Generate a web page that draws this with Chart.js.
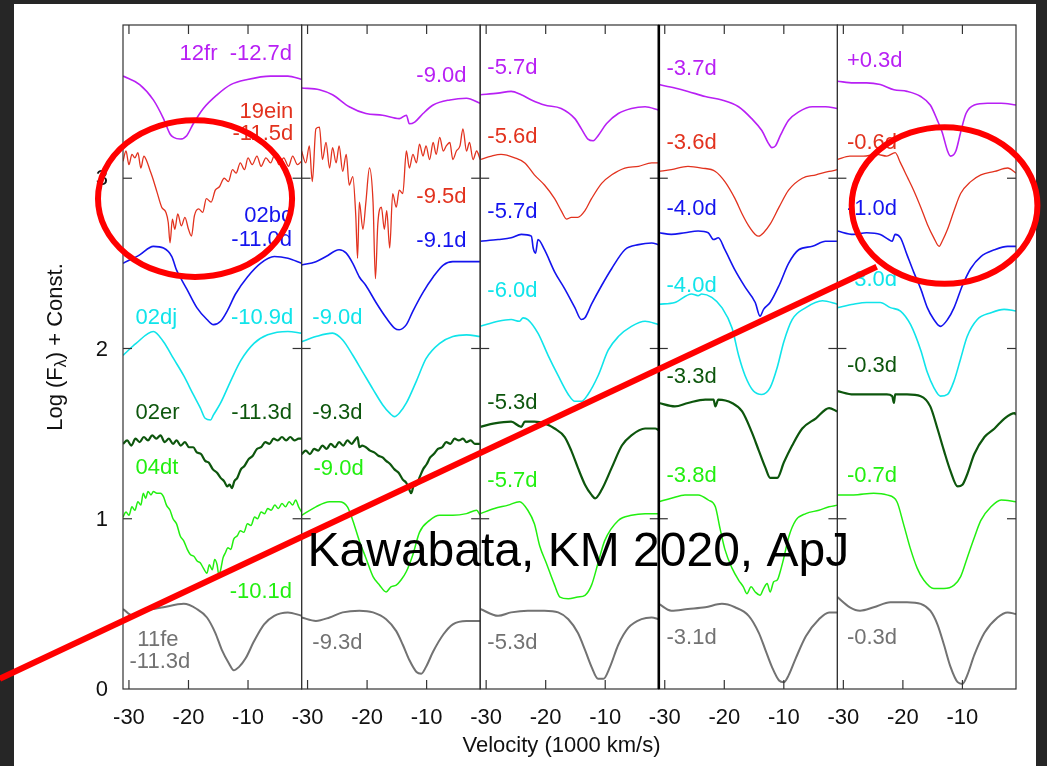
<!DOCTYPE html>
<html>
<head>
<meta charset="utf-8">
<title>Spectra - Kawabata, KM 2020</title>
<script src="https://cdn.jsdelivr.net/npm/chart.js@4.4.1/dist/chart.umd.min.js"></script>
<style>
  html, body { margin: 0; padding: 0; background: #262626; overflow: hidden; }
  canvas { display: block; }
</style>
</head>
<body>
<canvas id="spectraChart" width="1047" height="766"></canvas>
<script>
// spectra.js - five panels of velocity spectra, one line per SN per panel

const SN_NAMES = ['12fr', '19ein', '02bc', '02dj', '02er', '04dt', '11fe'];
const SN_COLORS = ['#b820f4', '#e2321e', '#1414ee', '#10e4ea', '#0d560d', '#22ef10', '#727272'];
const SN_WIDTHS = [1.6, 1.3, 1.6, 1.6, 2.2, 1.5, 2.0];

const X_TICKS = [-30, -20, -10];
const Y_TICKS = [0, 1, 2, 3];

// ---- panel 1 ----
const p1_12fr = [[-31.0,3.60],[-28.2,3.55],[-25.9,3.46],[-24.2,3.35],[-23.1,3.26],[-22.5,3.24],[-21.4,3.23],[-20.3,3.25],[-19.2,3.32],[-17.5,3.41],[-15.2,3.49],[-12.9,3.55],[-10.1,3.58],[-6.2,3.60],[-3.3,3.60],[-1.0,3.58]];
const p1_19ein = [[-31.0,3.10],[-30.5,3.16],[-30.0,3.08],[-29.5,3.14],[-29.0,3.12],[-28.5,3.15],[-28.0,3.06],[-27.5,3.13],[-27.0,3.10],[-26.5,3.05],[-26.0,3.00],[-25.3,2.92],[-24.5,2.83],[-23.8,2.80],[-23.4,2.74],[-23.1,2.62],[-22.7,2.76],[-22.3,2.70],[-21.8,2.79],[-21.2,2.72],[-20.6,2.77],[-20.0,2.70],[-19.5,2.66],[-19.0,2.78],[-18.3,2.82],[-17.6,2.80],[-17.0,2.88],[-16.2,2.86],[-15.5,2.93],[-14.8,2.95],[-14.0,3.00],[-13.3,2.98],[-12.6,3.05],[-12.0,3.03],[-11.3,3.09],[-10.6,3.05],[-10.0,3.12],[-9.3,3.08],[-8.5,3.13],[-7.8,3.07],[-7.0,3.12],[-6.2,3.09],[-5.5,3.14],[-4.8,3.08],[-4.0,3.12],[-3.2,3.07],[-2.5,3.13],[-1.7,3.08],[-1.0,3.10]];
const p1_02bc = [[-31.0,2.50],[-28.2,2.55],[-25.9,2.60],[-24.2,2.59],[-22.8,2.54],[-22.0,2.46],[-21.1,2.40],[-20.3,2.35],[-18.6,2.24],[-16.9,2.17],[-15.8,2.14],[-14.6,2.16],[-13.5,2.22],[-12.1,2.32],[-10.1,2.42],[-7.9,2.50],[-5.6,2.54],[-3.3,2.53],[-1.0,2.50]];
const p1_02dj = [[-31.0,1.96],[-28.8,2.03],[-25.9,2.10],[-24.2,2.04],[-22.5,1.94],[-20.8,1.84],[-19.2,1.73],[-18.0,1.65],[-17.2,1.59],[-16.3,1.58],[-15.8,1.61],[-14.6,1.68],[-12.9,1.81],[-11.2,1.93],[-9.0,2.03],[-6.7,2.08],[-3.3,2.10],[-1.0,2.09]];
const p1_02er = [[-31.0,1.44],[-30.3,1.46],[-29.6,1.43],[-28.9,1.47],[-28.2,1.45],[-27.5,1.48],[-26.8,1.46],[-26.1,1.49],[-25.4,1.47],[-24.7,1.49],[-24.0,1.45],[-23.3,1.47],[-22.6,1.44],[-22.0,1.46],[-21.3,1.43],[-20.6,1.45],[-19.9,1.42],[-19.2,1.42],[-18.6,1.39],[-17.9,1.38],[-17.2,1.34],[-16.6,1.33],[-15.9,1.29],[-15.2,1.27],[-14.6,1.24],[-14.0,1.22],[-13.5,1.19],[-13.1,1.20],[-12.7,1.18],[-12.3,1.22],[-11.8,1.24],[-11.2,1.29],[-10.6,1.31],[-9.9,1.35],[-9.2,1.37],[-8.5,1.41],[-7.8,1.42],[-7.1,1.45],[-6.4,1.44],[-5.7,1.47],[-5.0,1.46],[-4.3,1.48],[-3.6,1.46],[-2.9,1.48],[-2.2,1.46],[-1.5,1.47],[-1.0,1.47]];
const p1_04dt = [[-31.0,1.01],[-30.5,1.04],[-30.0,1.02],[-29.5,1.07],[-29.0,1.05],[-28.5,1.10],[-28.0,1.08],[-27.6,1.15],[-27.2,1.12],[-26.8,1.16],[-26.3,1.14],[-25.9,1.16],[-25.3,1.15],[-24.7,1.15],[-24.2,1.13],[-23.7,1.08],[-23.1,1.05],[-22.6,1.00],[-22.0,0.97],[-21.4,0.90],[-20.8,0.87],[-20.2,0.82],[-19.7,0.79],[-19.1,0.78],[-18.5,0.75],[-18.0,0.74],[-17.5,0.71],[-16.9,0.68],[-16.5,0.73],[-16.0,0.70],[-15.6,0.76],[-15.2,0.73],[-14.9,0.67],[-14.6,0.70],[-14.2,0.77],[-13.8,0.80],[-13.4,0.83],[-12.9,0.82],[-12.4,0.88],[-11.8,0.90],[-11.3,0.93],[-10.7,0.92],[-10.1,0.97],[-9.5,0.96],[-8.9,1.01],[-8.4,1.00],[-7.8,1.04],[-7.2,1.03],[-6.7,1.06],[-6.1,1.05],[-5.5,1.08],[-4.9,1.06],[-4.3,1.09],[-3.7,1.07],[-3.1,1.10],[-2.5,1.08],[-2.0,1.11],[-1.5,1.07],[-1.0,1.04]];
const p1_11fe = [[-31.0,0.47],[-29.3,0.43],[-27.1,0.46],[-24.2,0.48],[-20.8,0.50],[-18.6,0.47],[-16.9,0.42],[-15.5,0.33],[-14.4,0.23],[-13.2,0.15],[-12.4,0.11],[-11.5,0.13],[-10.4,0.18],[-9.0,0.28],[-7.3,0.38],[-5.6,0.43],[-3.3,0.45],[-1.0,0.43]];

// ---- panel 2 ----
const p2_12fr = [[-31.0,3.53],[-28.0,3.52],[-25.8,3.49],[-23.0,3.42],[-20.2,3.38],[-17.4,3.37],[-14.6,3.35],[-13.4,3.37],[-12.9,3.32],[-12.0,3.33],[-10.6,3.38],[-8.9,3.43],[-6.1,3.46],[-3.3,3.47],[-1.0,3.44]];
const p2_19ein = [[-31.0,3.16],[-30.3,3.09],[-29.7,3.19],[-29.2,2.98],[-28.6,3.29],[-28.0,3.30],[-27.5,3.11],[-26.9,3.21],[-26.3,3.06],[-25.8,3.18],[-25.2,3.09],[-24.7,3.19],[-24.1,3.04],[-23.5,3.14],[-23.0,2.96],[-22.4,3.01],[-21.9,2.78],[-21.6,2.53],[-21.3,2.86],[-20.7,2.70],[-20.2,2.86],[-19.6,3.06],[-19.0,2.86],[-18.6,2.41],[-18.2,2.73],[-17.6,2.83],[-17.1,2.70],[-16.7,2.81],[-16.2,2.59],[-15.7,2.91],[-15.1,2.83],[-14.6,2.93],[-14.0,2.91],[-13.4,3.16],[-12.9,3.06],[-12.3,3.14],[-11.7,3.09],[-11.2,3.20],[-10.6,3.13],[-10.1,3.19],[-9.5,3.11],[-8.9,3.21],[-8.4,3.14],[-7.8,3.24],[-7.2,3.16],[-6.7,3.19],[-6.1,3.21],[-5.6,3.11],[-5.0,3.16],[-4.4,3.19],[-3.9,3.29],[-3.3,3.16],[-2.8,3.21],[-2.2,3.11],[-1.6,3.16],[-1.0,3.11]];
const p2_02bc = [[-31.0,2.49],[-28.6,2.51],[-26.9,2.54],[-24.7,2.58],[-23.5,2.56],[-22.4,2.50],[-21.3,2.42],[-20.2,2.37],[-18.5,2.27],[-16.8,2.18],[-15.4,2.12],[-14.6,2.11],[-13.4,2.14],[-12.3,2.22],[-10.6,2.33],[-8.9,2.42],[-7.2,2.49],[-5.6,2.51],[-3.3,2.51],[-1.0,2.51]];
const p2_02dj = [[-31.0,2.04],[-28.6,2.07],[-25.8,2.09],[-24.1,2.05],[-22.4,1.96],[-20.7,1.86],[-19.0,1.76],[-17.4,1.67],[-16.2,1.62],[-15.4,1.60],[-14.6,1.62],[-13.4,1.68],[-11.7,1.81],[-10.1,1.94],[-7.8,2.03],[-5.6,2.07],[-3.3,2.08],[-1.0,2.07]];
const p2_02er = [[-31.0,1.38],[-30.3,1.40],[-29.6,1.38],[-28.9,1.41],[-28.2,1.40],[-27.5,1.43],[-26.8,1.41],[-26.1,1.44],[-25.4,1.42],[-24.7,1.45],[-24.0,1.43],[-23.3,1.46],[-22.6,1.44],[-22.1,1.46],[-21.6,1.48],[-21.3,1.42],[-20.8,1.43],[-20.2,1.42],[-19.5,1.40],[-18.8,1.39],[-18.1,1.37],[-17.4,1.36],[-16.8,1.34],[-16.1,1.32],[-15.4,1.29],[-14.7,1.27],[-14.0,1.23],[-13.4,1.21],[-12.9,1.17],[-12.6,1.15],[-12.2,1.19],[-11.7,1.20],[-11.1,1.25],[-10.6,1.29],[-10.0,1.32],[-9.4,1.36],[-8.8,1.38],[-8.1,1.41],[-7.4,1.42],[-6.7,1.45],[-6.0,1.44],[-5.3,1.47],[-4.6,1.46],[-3.9,1.47],[-3.3,1.45],[-2.6,1.46],[-1.9,1.44],[-1.0,1.44]];
const p2_04dt = [[-31.0,1.02],[-28.6,1.07],[-26.3,1.10],[-24.7,1.10],[-23.3,1.07],[-22.4,0.99],[-21.3,0.87],[-20.2,0.77],[-19.0,0.66],[-17.9,0.61],[-16.8,0.57],[-16.0,0.60],[-15.1,0.61],[-14.3,0.64],[-13.4,0.69],[-12.3,0.79],[-11.2,0.92],[-9.5,0.99],[-7.8,1.02],[-5.6,1.02],[-3.3,1.03],[-1.6,1.05],[-1.0,1.02]];
const p2_11fe = [[-31.0,0.42],[-28.6,0.40],[-26.3,0.42],[-24.1,0.45],[-21.3,0.46],[-19.0,0.45],[-16.8,0.41],[-15.1,0.34],[-14.0,0.26],[-12.9,0.17],[-11.7,0.10],[-10.9,0.09],[-10.1,0.13],[-8.9,0.22],[-7.2,0.32],[-5.6,0.38],[-3.3,0.40],[-1.0,0.40]];

// ---- panel 3 ----
const p3_12fr = [[-31.0,3.49],[-28.0,3.50],[-25.8,3.51],[-24.1,3.49],[-22.4,3.46],[-20.2,3.43],[-17.4,3.41],[-15.1,3.35],[-14.0,3.29],[-12.9,3.23],[-12.0,3.22],[-11.2,3.25],[-9.8,3.32],[-7.8,3.38],[-5.6,3.41],[-3.3,3.42],[-1.0,3.40]];
const p3_19ein = [[-31.0,3.11],[-29.1,3.13],[-27.5,3.14],[-25.2,3.12],[-23.5,3.09],[-21.9,3.02],[-20.2,2.96],[-18.5,2.88],[-17.4,2.81],[-16.5,2.76],[-15.7,2.77],[-14.6,2.77],[-13.4,2.81],[-12.3,2.88],[-10.6,2.97],[-8.9,3.02],[-6.7,3.06],[-4.4,3.07],[-2.2,3.09],[-1.0,3.09]];
const p3_02bc = [[-31.0,2.63],[-28.0,2.64],[-25.8,2.65],[-24.1,2.67],[-22.4,2.66],[-22.1,2.59],[-21.7,2.56],[-21.3,2.64],[-20.2,2.58],[-18.5,2.45],[-16.8,2.35],[-15.1,2.24],[-14.0,2.17],[-13.4,2.18],[-12.3,2.26],[-10.6,2.37],[-8.9,2.47],[-6.7,2.58],[-4.4,2.61],[-2.2,2.62],[-1.0,2.61]];
const p3_02dj = [[-31.0,2.13],[-28.0,2.16],[-25.8,2.17],[-24.4,2.16],[-23.8,2.18],[-23.0,2.17],[-21.3,2.09],[-19.6,1.96],[-17.9,1.84],[-16.2,1.73],[-15.1,1.69],[-14.0,1.69],[-12.9,1.73],[-11.2,1.84],[-9.5,1.99],[-7.8,2.07],[-5.6,2.13],[-3.3,2.16],[-1.0,2.14]];
const p3_02er = [[-31.0,1.54],[-28.6,1.56],[-25.8,1.57],[-24.1,1.54],[-23.5,1.57],[-21.9,1.57],[-20.2,1.56],[-18.5,1.53],[-16.8,1.48],[-15.7,1.40],[-14.6,1.30],[-13.4,1.20],[-12.3,1.14],[-11.7,1.12],[-10.6,1.17],[-8.9,1.30],[-7.2,1.43],[-5.6,1.49],[-3.3,1.53],[-1.6,1.53],[-1.0,1.52]];
const p3_04dt = [[-31.0,1.03],[-28.6,1.06],[-26.3,1.08],[-24.4,1.10],[-23.0,1.05],[-21.9,0.97],[-21.0,0.84],[-19.9,0.74],[-18.5,0.61],[-17.6,0.54],[-16.2,0.53],[-14.6,0.54],[-13.4,0.55],[-12.3,0.61],[-11.2,0.74],[-10.1,0.87],[-7.8,0.99],[-5.6,1.02],[-3.3,1.03],[-1.0,1.03]];
const p3_11fe = [[-31.0,0.47],[-28.0,0.43],[-25.8,0.45],[-23.0,0.46],[-20.2,0.46],[-17.9,0.45],[-16.2,0.41],[-14.6,0.33],[-13.4,0.23],[-12.3,0.13],[-11.2,0.06],[-10.3,0.06],[-9.2,0.13],[-7.8,0.26],[-6.1,0.36],[-3.9,0.41],[-2.2,0.42],[-1.0,0.41]];

// ---- panel 4 ----
const p4_12fr = [[-31.0,3.55],[-28.3,3.53],[-26.1,3.51],[-23.2,3.48],[-20.4,3.46],[-17.6,3.42],[-15.4,3.35],[-13.7,3.28],[-12.5,3.20],[-12.0,3.18],[-11.4,3.19],[-10.6,3.25],[-9.2,3.34],[-7.5,3.39],[-5.2,3.42],[-3.0,3.42],[-1.0,3.41]];
const p4_19ein = [[-31.0,3.04],[-28.9,3.05],[-26.1,3.07],[-23.8,3.06],[-21.5,3.04],[-19.9,2.98],[-18.2,2.88],[-17.0,2.79],[-15.9,2.72],[-14.8,2.67],[-14.2,2.66],[-13.4,2.68],[-12.3,2.73],[-10.8,2.83],[-9.2,2.93],[-6.9,3.00],[-4.6,3.02],[-2.4,3.04],[-1.0,3.05]];
const p4_02bc = [[-31.0,2.68],[-28.9,2.67],[-26.6,2.68],[-24.4,2.69],[-22.7,2.68],[-21.8,2.64],[-21.0,2.65],[-19.9,2.58],[-18.2,2.46],[-16.5,2.36],[-14.8,2.27],[-14.0,2.19],[-13.4,2.23],[-12.3,2.27],[-10.8,2.37],[-9.2,2.50],[-7.5,2.58],[-5.2,2.60],[-3.0,2.63],[-1.0,2.63]];
const p4_02dj = [[-31.0,2.26],[-28.3,2.27],[-25.5,2.32],[-24.4,2.31],[-23.8,2.32],[-22.1,2.30],[-20.4,2.24],[-18.7,2.12],[-17.6,1.96],[-16.5,1.84],[-15.1,1.75],[-13.7,1.73],[-12.3,1.77],[-11.1,1.89],[-10.0,2.04],[-8.6,2.17],[-6.3,2.24],[-3.5,2.28],[-1.0,2.26]];
const p4_02er = [[-31.0,1.68],[-28.3,1.66],[-26.1,1.68],[-23.2,1.70],[-21.8,1.70],[-21.5,1.66],[-21.0,1.70],[-18.7,1.68],[-17.0,1.63],[-15.4,1.51],[-14.2,1.40],[-13.1,1.30],[-12.3,1.24],[-11.1,1.24],[-10.0,1.33],[-8.6,1.43],[-6.9,1.53],[-4.6,1.59],[-2.4,1.65],[-1.0,1.63]];
const p4_04dt = [[-31.0,1.10],[-28.9,1.12],[-26.6,1.14],[-24.4,1.14],[-22.7,1.11],[-21.5,1.07],[-20.7,0.94],[-19.9,0.82],[-18.7,0.71],[-17.6,0.64],[-16.8,0.60],[-16.2,0.56],[-15.5,0.60],[-14.8,0.57],[-14.0,0.55],[-13.4,0.59],[-12.8,0.62],[-12.3,0.57],[-11.7,0.63],[-11.1,0.64],[-10.6,0.69],[-10.0,0.77],[-9.2,0.89],[-8.0,0.99],[-6.3,1.03],[-4.1,1.05],[-2.4,1.07],[-1.0,1.08]];
const p4_11fe = [[-31.0,0.50],[-28.9,0.46],[-26.1,0.47],[-23.2,0.48],[-20.4,0.50],[-18.2,0.48],[-15.9,0.43],[-14.2,0.33],[-13.1,0.23],[-12.0,0.13],[-10.8,0.05],[-10.0,0.04],[-9.2,0.08],[-8.0,0.18],[-6.3,0.31],[-4.1,0.41],[-2.4,0.45],[-1.0,0.45]];

// ---- panel 5 ----
const p5_12fr = [[-31.0,3.57],[-28.3,3.56],[-26.1,3.56],[-23.8,3.55],[-21.5,3.52],[-19.3,3.51],[-17.0,3.48],[-15.4,3.43],[-14.2,3.34],[-13.4,3.27],[-12.5,3.16],[-12.0,3.13],[-11.1,3.16],[-10.3,3.27],[-9.4,3.38],[-8.0,3.43],[-5.8,3.44],[-3.5,3.44],[-1.0,3.43]];
const p5_19ein = [[-31.0,3.11],[-28.9,3.13],[-26.6,3.13],[-24.4,3.14],[-22.7,3.13],[-21.3,3.15],[-20.4,3.09],[-19.3,3.01],[-18.2,2.93],[-17.0,2.83],[-15.9,2.73],[-14.8,2.65],[-13.9,2.60],[-13.4,2.63],[-12.5,2.70],[-11.4,2.81],[-10.3,2.91],[-8.6,2.98],[-6.9,3.02],[-4.6,3.04],[-2.4,3.06],[-1.0,3.03]];
const p5_02bc = [[-31.0,2.69],[-28.3,2.67],[-26.1,2.68],[-23.8,2.67],[-22.4,2.64],[-21.8,2.63],[-21.3,2.67],[-20.4,2.65],[-19.3,2.55],[-18.2,2.45],[-17.0,2.35],[-15.9,2.24],[-14.8,2.17],[-13.7,2.13],[-12.5,2.17],[-11.4,2.24],[-10.0,2.37],[-8.6,2.47],[-6.9,2.54],[-4.6,2.58],[-2.4,2.60],[-1.0,2.60]];
const p5_02dj = [[-31.0,2.24],[-28.3,2.26],[-26.1,2.27],[-23.8,2.27],[-22.1,2.24],[-20.4,2.22],[-18.7,2.14],[-17.0,1.99],[-15.9,1.86],[-14.8,1.77],[-13.7,1.72],[-12.5,1.73],[-11.4,1.81],[-10.3,1.94],[-9.2,2.07],[-7.5,2.17],[-5.2,2.21],[-3.0,2.23],[-1.0,2.22]];
const p5_02er = [[-31.0,1.75],[-28.3,1.73],[-25.5,1.73],[-22.7,1.73],[-21.8,1.72],[-21.5,1.68],[-21.3,1.73],[-19.3,1.73],[-17.0,1.72],[-15.4,1.66],[-14.2,1.53],[-13.1,1.40],[-12.0,1.28],[-10.8,1.19],[-10.0,1.20],[-9.2,1.26],[-8.0,1.38],[-6.3,1.48],[-4.6,1.53],[-2.9,1.59],[-1.2,1.62],[-1.0,1.61]];
const p5_04dt = [[-31.0,1.14],[-28.3,1.14],[-24.9,1.15],[-22.7,1.14],[-21.0,1.10],[-19.9,0.97],[-18.7,0.82],[-17.6,0.71],[-16.5,0.64],[-14.8,0.59],[-13.1,0.59],[-11.4,0.61],[-10.3,0.66],[-9.2,0.77],[-8.0,0.89],[-6.9,0.99],[-5.2,1.07],[-3.5,1.11],[-1.0,1.10]];
const p5_11fe = [[-31.0,0.54],[-28.9,0.48],[-27.2,0.46],[-24.9,0.48],[-22.1,0.51],[-19.3,0.51],[-17.0,0.50],[-15.4,0.46],[-14.2,0.38],[-13.1,0.26],[-12.0,0.13],[-10.8,0.04],[-10.0,0.03],[-9.2,0.08],[-8.0,0.20],[-6.3,0.33],[-4.1,0.42],[-2.4,0.45],[-1.0,0.44]];

const PANELS = [
    [p1_12fr, p1_19ein, p1_02bc, p1_02dj, p1_02er, p1_04dt, p1_11fe],
    [p2_12fr, p2_19ein, p2_02bc, p2_02dj, p2_02er, p2_04dt, p2_11fe],
    [p3_12fr, p3_19ein, p3_02bc, p3_02dj, p3_02er, p3_04dt, p3_11fe],
    [p4_12fr, p4_19ein, p4_02bc, p4_02dj, p4_02er, p4_04dt, p4_11fe],
    [p5_12fr, p5_19ein, p5_02bc, p5_02dj, p5_02er, p5_04dt, p5_11fe]
];

// epoch labels: [panel, x, y, text, align, sn index]
const LABELS = [
    [0, -2.6, 3.73, '12fr  -12.7d', 'right', 0],
    [0, -2.4, 3.39, '19ein', 'right', 1],
    [0, -2.4, 3.26, '-11.5d', 'right', 1],
    [0, -2.6, 2.78, '02bc', 'right', 2],
    [0, -2.6, 2.64, '-11.0d', 'right', 2],
    [0, -28.9, 2.18, '02dj', 'left', 3],
    [0, -2.4, 2.18, '-10.9d', 'right', 3],
    [0, -28.9, 1.62, '02er', 'left', 4],
    [0, -2.6, 1.62, '-11.3d', 'right', 4],
    [0, -28.9, 1.30, '04dt', 'left', 5],
    [0, -2.6, 0.57, '-10.1d', 'right', 5],
    [0, -28.6, 0.29, '11fe', 'left', 6],
    [0, -29.9, 0.16, '-11.3d', 'left', 6],
    [1, -3.3, 3.60, '-9.0d', 'right', 0],
    [1, -3.3, 2.89, '-9.5d', 'right', 1],
    [1, -3.3, 2.63, '-9.1d', 'right', 2],
    [1, -29.2, 2.18, '-9.0d', 'left', 3],
    [1, -29.2, 1.62, '-9.3d', 'left', 4],
    [1, -29.0, 1.29, '-9.0d', 'left', 5],
    [1, -29.2, 0.27, '-9.3d', 'left', 6],
    [2, -29.8, 3.65, '-5.7d', 'left', 0],
    [2, -29.8, 3.24, '-5.6d', 'left', 1],
    [2, -29.8, 2.80, '-5.7d', 'left', 2],
    [2, -29.8, 2.34, '-6.0d', 'left', 3],
    [2, -29.8, 1.68, '-5.3d', 'left', 4],
    [2, -29.8, 1.22, '-5.7d', 'left', 5],
    [2, -29.8, 0.27, '-5.3d', 'left', 6],
    [3, -29.7, 3.64, '-3.7d', 'left', 0],
    [3, -29.7, 3.21, '-3.6d', 'left', 1],
    [3, -29.7, 2.82, '-4.0d', 'left', 2],
    [3, -29.7, 2.37, '-4.0d', 'left', 3],
    [3, -29.7, 1.83, '-3.3d', 'left', 4],
    [3, -29.7, 1.25, '-3.8d', 'left', 5],
    [3, -29.7, 0.30, '-3.1d', 'left', 6],
    [4, -29.4, 3.69, '+0.3d', 'left', 0],
    [4, -29.4, 3.21, '-0.6d', 'left', 1],
    [4, -29.4, 2.82, '-1.0d', 'left', 2],
    [4, -29.4, 2.40, '-3.0d', 'left', 3],
    [4, -29.4, 1.90, '-0.3d', 'left', 4],
    [4, -29.4, 1.25, '-0.7d', 'left', 5],
    [4, -29.4, 0.30, '-0.3d', 'left', 6]
];

const PANEL_IDS = PANELS.map((_, p) => 'x' + p);
const FONT = '"Liberation Sans", Arial, sans-serif';

// slide overlay (red marks), in panel data units
const OVERLAY_ELLIPSES = [
    { panel: 0, cx: -18.9, cy: 2.88, rx: 16.3, ry: 0.46 },
    { panel: 4, cx: -13.0, cy: 2.84, rx: 15.6, ry: 0.46 }
];
const OVERLAY_LINE = { from: [0, -51.7, 0.06], to: [4, -24.4, 2.48] };
const CITATION = { panel: 1, x: -30.0, y: 0.80, text: 'Kawabata, KM 2020, ApJ' };

function buildDatasets() {
    const datasets = [];
    PANELS.forEach((series, p) => {
        series.forEach((pts, i) => {
            datasets.push({
                label: SN_NAMES[i] + ' #' + (p + 1),
                data: pts,
                xAxisID: PANEL_IDS[p],
                yAxisID: 'y',
                borderColor: SN_COLORS[i],
                borderWidth: SN_WIDTHS[i],
                pointRadius: 0,
                fill: false,
                cubicInterpolationMode: 'monotone'
            });
        });
    });
    return datasets;
}

function buildScales() {
    const scales = {
        y: { type: 'linear', position: 'left', min: 0, max: 3.9, display: false }
    };
    PANEL_IDS.forEach(id => {
        scales[id] = {
            type: 'linear', axis: 'x', position: 'bottom', stack: 'panels',
            min: -31, max: -1, display: false
        };
    });
    return scales;
}

function line(ctx, x1, y1, x2, y2) {
    ctx.beginPath();
    ctx.moveTo(x1, y1);
    ctx.lineTo(x2, y2);
    ctx.stroke();
}

const slideFrame = {
    id: 'slideFrame',
    beforeDraw(chart) {
        const { ctx, width, height } = chart;
        ctx.save();
        ctx.fillStyle = '#262626';
        ctx.fillRect(0, 0, width, height);
        ctx.fillStyle = '#ffffff';
        ctx.fillRect(14, 4, 1022, height - 4);
        ctx.restore();
    },
    afterDatasetsDraw(chart) {
        const { ctx, chartArea: a, scales } = chart;
        const yS = scales.y;
        ctx.save();

        // panel boxes + ticks
        PANEL_IDS.forEach((id, p) => {
            const s = scales[id];
            ctx.strokeStyle = '#333333';
            ctx.lineWidth = 1.2;
            ctx.strokeRect(s.left, a.top, s.right - s.left, a.bottom - a.top);
            X_TICKS.forEach(v => {
                const px = s.getPixelForValue(v);
                line(ctx, px, a.bottom, px, a.bottom - 9);
                line(ctx, px, a.top, px, a.top + 9);
            });
            Y_TICKS.slice(1).forEach(v => {
                const py = yS.getPixelForValue(v);
                line(ctx, s.left, py, s.left + 9, py);
                line(ctx, s.right, py, s.right - 9, py);
            });
        });

        // heavier divider between panel 3 and 4
        ctx.strokeStyle = '#000000';
        ctx.lineWidth = 2.6;
        line(ctx, scales.x3.left, a.top, scales.x3.left, a.bottom);

        // tick labels
        ctx.fillStyle = '#111111';
        ctx.font = '22px ' + FONT;
        ctx.textAlign = 'center';
        ctx.textBaseline = 'middle';
        PANEL_IDS.forEach(id => {
            const s = scales[id];
            X_TICKS.forEach(v => ctx.fillText(String(v), s.getPixelForValue(v), a.bottom + 29));
        });
        ctx.textAlign = 'right';
        Y_TICKS.forEach(v => ctx.fillText(String(v), a.left - 15, yS.getPixelForValue(v) + 1));

        // axis titles
        ctx.textAlign = 'center';
        ctx.fillText('Velocity (1000 km/s)', (a.left + a.right) / 2 - 8, a.bottom + 57);

        ctx.save();
        ctx.translate(a.left - 67, (a.top + a.bottom) / 2 - 10);
        ctx.rotate(-Math.PI / 2);
        const big = '22px ' + FONT, small = '16px ' + FONT;
        const parts = [['Log (F', big, 0], ['\u03bb', small, 6], [') + Const.', big, 0]];
        let total = 0;
        parts.forEach(([t, f]) => { ctx.font = f; total += ctx.measureText(t).width; });
        let cx = -total / 2;
        ctx.textAlign = 'left';
        parts.forEach(([t, f, dy]) => {
            ctx.font = f;
            ctx.fillText(t, cx, dy);
            cx += ctx.measureText(t).width;
        });
        ctx.restore();

        // epoch labels
        ctx.font = '22px ' + FONT;
        ctx.textBaseline = 'middle';
        LABELS.forEach(([p, x, y, text, align, sn]) => {
            ctx.fillStyle = SN_COLORS[sn];
            ctx.textAlign = align;
            ctx.fillText(text, scales[PANEL_IDS[p]].getPixelForValue(x), yS.getPixelForValue(y));
        });
        ctx.restore();
    },
    afterDraw(chart) {
        const { ctx, scales } = chart;
        const yS = scales.y;
        const px = (p, v) => scales[PANEL_IDS[p]].getPixelForValue(v);
        ctx.save();
        ctx.strokeStyle = '#ff0000';
        ctx.lineWidth = 6;
        OVERLAY_ELLIPSES.forEach(e => {
            const cx = px(e.panel, e.cx), cy = yS.getPixelForValue(e.cy);
            const rx = Math.abs(px(e.panel, e.cx + e.rx) - cx);
            const ry = Math.abs(yS.getPixelForValue(e.cy + e.ry) - cy);
            ctx.beginPath();
            ctx.ellipse(cx, cy, rx, ry, 0, 0, Math.PI * 2);
            ctx.stroke();
        });
        const f = OVERLAY_LINE.from, t = OVERLAY_LINE.to;
        line(ctx, px(f[0], f[1]), yS.getPixelForValue(f[2]), px(t[0], t[1]), yS.getPixelForValue(t[2]));

        ctx.fillStyle = '#000000';
        ctx.font = '48px ' + FONT;
        ctx.textAlign = 'left';
        ctx.textBaseline = 'middle';
        ctx.fillText(CITATION.text, px(CITATION.panel, CITATION.x), yS.getPixelForValue(CITATION.y));
        ctx.restore();
    }
};

function init() {
    const ctx = document.getElementById('spectraChart').getContext('2d');
    new Chart(ctx, {
        type: 'line',
        data: { datasets: buildDatasets() },
        options: {
            responsive: false,
            animation: false,
            devicePixelRatio: 1,
            parsing: true,
            layout: { padding: { left: 123, right: 31, top: 25, bottom: 77 } },
            scales: buildScales(),
            plugins: {
                legend: { display: false },
                tooltip: { enabled: false }
            }
        },
        plugins: [slideFrame]
    });
}

init();
</script>
</body>
</html>
